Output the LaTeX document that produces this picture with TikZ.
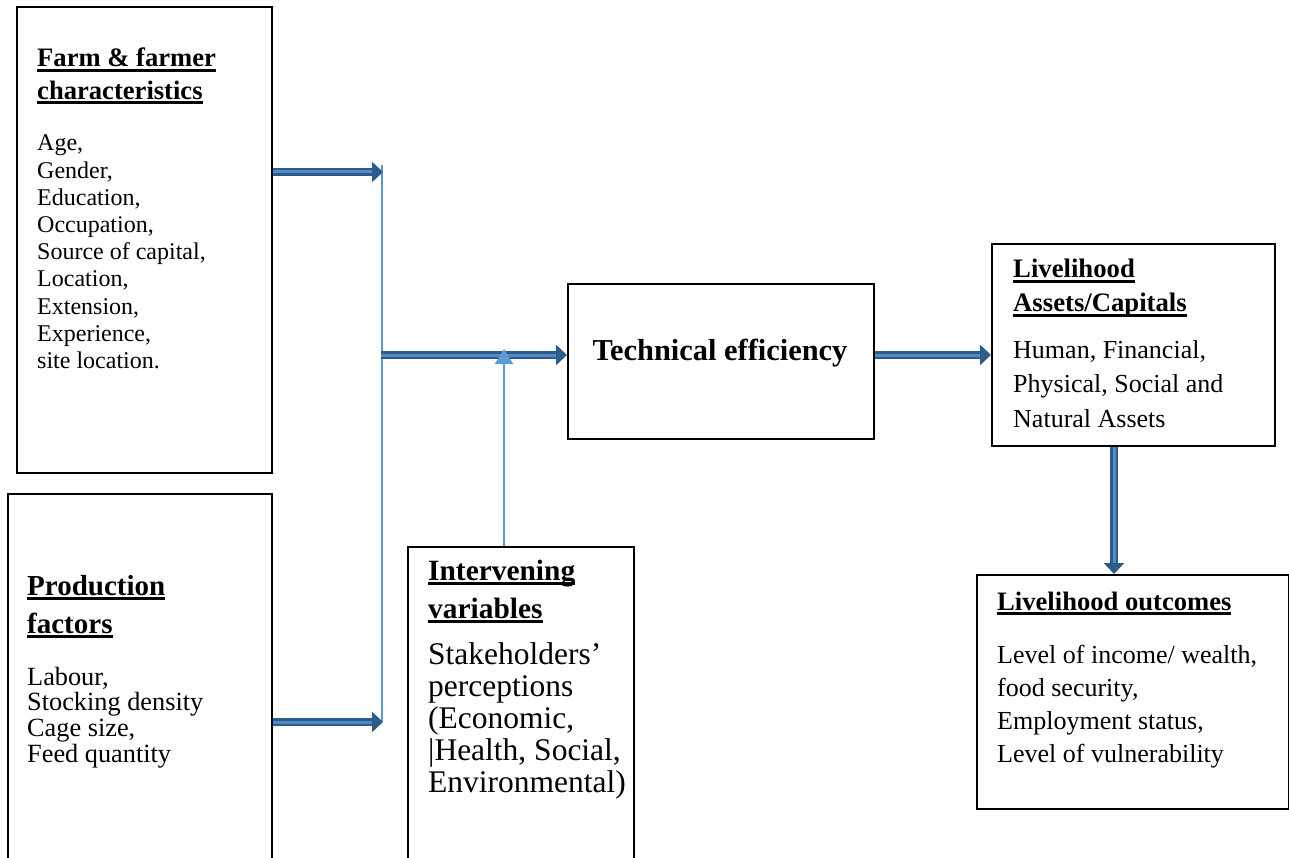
\documentclass[tikz,border=0pt]{standalone}
\usepackage{fontspec}
\setmainfont{Liberation Serif}
\usetikzlibrary{arrows.meta}
\definecolor{arrdark}{HTML}{2E5C8A}
\definecolor{arrlight}{HTML}{5289C7}
\definecolor{thinblue}{HTML}{5B9BD5}
\newcommand{\hdul}[1]{\setbox0\hbox{#1}\leavevmode\rlap{\vrule width \wd0 height -2pt depth 5pt}\box0}
\newcommand{\fatarrow}[2]{%
  \draw[line width=7.5pt, arrdark, -{Triangle[length=11pt,width=20pt]}] (#1) -- (#2);
  \draw[line width=3pt, arrlight, shorten >=11pt] (#1) -- (#2);}
\tikzset{
  box/.style={draw=black, line width=2pt, anchor=north west, inner sep=0pt},
  txt/.style={anchor=base west, inner sep=0pt, align=left},
  thinline/.style={draw=thinblue, line width=1.2pt},
  uparrow/.style={draw=thinblue, line width=2pt, -{Triangle[length=15pt,width=18pt]}}
}
\begin{document}
\begin{tikzpicture}[x=1pt,y=-1pt]
\useasboundingbox (0,0) rectangle (1289,858);
\clip (0,0) rectangle (1289,858);
% boxes
\node[box, minimum width=255pt, minimum height=466pt] (farm) at (16,6) {};
\node[box, minimum width=264pt, minimum height=400pt] (prod) at (7,493) {};
\node[box, minimum width=226pt, minimum height=350pt] (interv) at (407,546) {};
\node[box, minimum width=306pt, minimum height=155pt] (tech) at (567,283) {};
\node[box, minimum width=283pt, minimum height=202pt] (assets) at (991,243) {};
\node[box, minimum width=312pt, minimum height=234pt] (outc) at (976,574) {};
% texts
\node[txt] (farmh) at (37,67) {\vtop{\fontsize{26.6}{32.5}\selectfont\bfseries
  \hbox{\hdul{Farm \& farmer}}\hbox{\hdul{characteristics}}}};
\node[txt] (farmb) at (37,151) {\vtop{\fontsize{24}{27.2}\selectfont
  \hbox{Age,}\hbox{Gender,}\hbox{Education,}\hbox{Occupation,}\hbox{Source of capital,}
  \hbox{Location,}\hbox{Extension,}\hbox{Experience,}\hbox{site location.}}};
\node[txt] (prodh) at (27,595) {\vtop{\fontsize{29}{38}\selectfont\bfseries
  \hbox{\hdul{Production}}\hbox{\hdul{factors}}}};
\node[txt] (prodb) at (27,685) {\vtop{\fontsize{26.3}{25.7}\selectfont
  \hbox{Labour,}\hbox{Stocking density}\hbox{Cage size,}\hbox{Feed quantity}}};
\node[txt] (intervh) at (428,580) {\vtop{\fontsize{29.4}{38}\selectfont\bfseries
  \hbox{\hdul{Intervening}}\hbox{\hdul{variables}}}};
\node[txt] (intervb) at (428,664) {\vtop{\fontsize{31.5}{32.2}\selectfont
  \hbox{Stakeholders’}\hbox{perceptions}\hbox{(Economic,}\hbox{|Health, Social,}\hbox{Environmental)}}};
\node[anchor=base, inner sep=0pt] (techt) at (720,360) {\fontsize{30.4}{34}\selectfont\bfseries Technical efficiency};
\node[txt] (assetsh) at (1013,278) {\vtop{\fontsize{26.7}{34}\selectfont\bfseries
  \hbox{\hdul{Livelihood}}\hbox{\hdul{Assets/Capitals}}}};
\node[txt] (assetsb) at (1013,358) {\vtop{\fontsize{26}{34.5}\selectfont
  \hbox{Human, Financial,}\hbox{Physical, Social and}\hbox{Natural Assets}}};
\node[txt] (outch) at (997,610) {\fontsize{26.6}{32}\selectfont\bfseries\hdul{Livelihood outcomes}};
\node[txt] (outcb) at (997,663) {\vtop{\fontsize{26}{33}\selectfont
  \hbox{Level of income/ wealth,}\hbox{food security,}\hbox{Employment status,}\hbox{Level of vulnerability}}};
% junction coordinates
\coordinate (jtop) at (382,165);
\coordinate (j1) at (383,172);
\coordinate (j2) at (383,722);
\coordinate (jbot) at (382,722);
\coordinate (jmid) at (381,355);
\coordinate (up) at (504,349);
% connectors
\draw[thinline] (jtop) -- (jbot);
\fatarrow{farm.east|-j1}{j1}
\fatarrow{prod.east|-j2}{j2}
\fatarrow{jmid}{tech.west|-jmid}
\draw[uparrow] (interv.north-|up) -- (up);
\fatarrow{tech.east|-jmid}{assets.west|-jmid}
\fatarrow{assets.south-|1114,0}{outc.north-|1114,0}
\end{tikzpicture}
\end{document}
